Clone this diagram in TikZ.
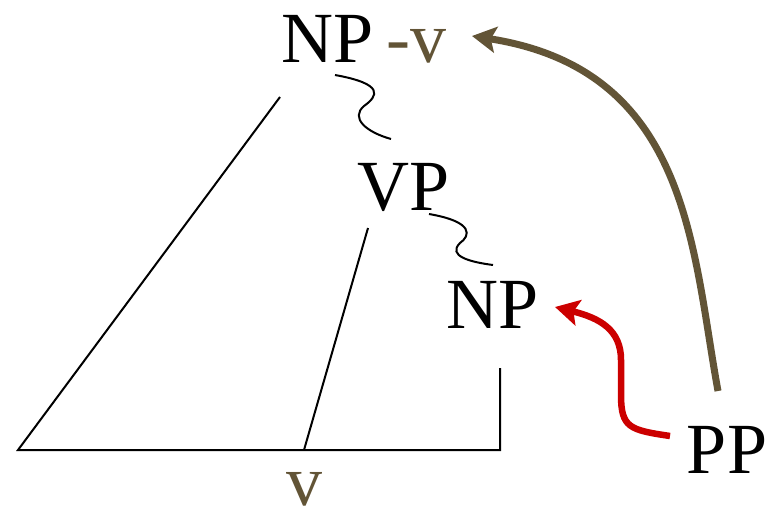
\documentclass[tikz,border=0pt]{standalone}
\usepackage{fontspec}
\setmainfont{Liberation Serif}
\usepackage{tikz}
\usetikzlibrary{arrows.meta}
\definecolor{cV}{HTML}{625436}
\definecolor{cR}{HTML}{CC0000}
\tikzset{
  cat/.style={font=\fontsize{72}{80}\selectfont, inner sep=0pt},
  vlab/.style={font=\fontsize{72}{80}\selectfont, inner sep=0pt, cV},
  branch/.style={line width=2pt, black},
  squig/.style={line width=2pt, black},
  movR/.style={line width=6.5pt, cR, -{Stealth[length=24pt, width=26pt, inset=5pt]}},
  movV/.style={line width=7pt, cV, -{Stealth[length=24pt, width=26pt, inset=5pt]}},
}
\begin{document}
\begin{tikzpicture}[x=1pt, y=-1pt]
\useasboundingbox (0,0) rectangle (767,522);
% labels
\node[cat, anchor=base] (np1) at (328,62) {NP};
\node[vlab, anchor=base west] (vsuf) at (386,62) {-v};
\node[cat, anchor=base] (vp) at (404,210) {VP};
\node[cat, anchor=base] (np2) at (493,328) {NP};
\node[cat, anchor=base] (pp) at (727,473) {PP};
\node[vlab, anchor=base] (vbot) at (304,505) {v};
% tree
\coordinate (top) at (280,97);
\coordinate (bl) at (18,450);
\coordinate (br) at (500,450);
\coordinate (npfoot) at (500,368);
\coordinate (vptop) at (368,228);
\coordinate (vpfoot) at (304,450);
\draw[branch] (top) -- (bl) -- (br) -- (npfoot);
\draw[branch] (vptop) -- (vpfoot);
% squiggles
\coordinate (s1a) at (335,75); \coordinate (s1b) at (391,139);
\coordinate (s2a) at (429,214); \coordinate (s2b) at (493,265);
\draw[squig] (s1a) .. controls (385,84) and (378,96) .. (364,106) .. controls (350,118) and (366,132) .. (s1b);
\draw[squig] (s2a) .. controls (475,222) and (470,236) .. (460,243) .. controls (447,256) and (470,262) .. (s2b);
% movement
\coordinate (rs) at (670,436); \coordinate (rt) at (555,307);
\coordinate (bs) at (718,391); \coordinate (bt) at (472,36);
\draw[movR] (rs) .. controls (630,430) and (621,428) .. (621,395) -- (621,360) .. controls (621,330) and (600,318) .. (rt);
\draw[movV] (bs) .. controls (692,250) and (690,70) .. (bt);
\end{tikzpicture}
\end{document}
